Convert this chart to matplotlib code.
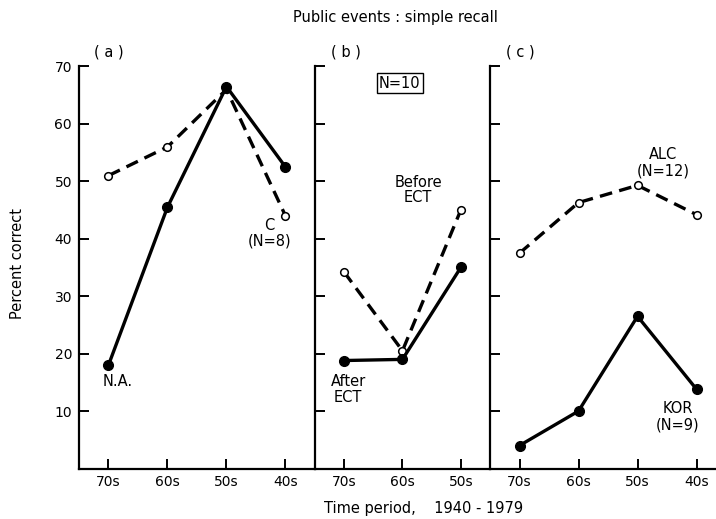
import matplotlib
matplotlib.use("Agg")
import matplotlib.pyplot as plt

plt.rcParams['font.family'] = 'DejaVu Sans'

# decades recalled, most recent first
periods_a = ['70s', '60s', '50s', '40s']
periods_b = ['70s', '60s', '50s']
periods_c = ['70s', '60s', '50s', '40s']

# (a) control group vs N.A.
control_c = [51, 56, 66, 44]
patient_na = [18, 45.5, 66.5, 52.5]

# (b) ECT patients, N=10
before_ect = [34.2, 20.5, 45]
after_ect = [18.8, 19, 35]

# (c) alcoholics vs Korsakoff
alc = [37.5, 46.3, 49.3, 44.2]
kor = [4, 10, 26.5, 13.8]

yticks = [10, 20, 30, 40, 50, 60, 70]

LW = 2.4
DASH = (3.8, 2.2)


def style_axes(ax, labels, show_y):
    ax.set_xlim(-0.5, len(labels) - 0.5)
    ax.set_ylim(0, 70)
    ax.spines['top'].set_visible(False)
    ax.spines['right'].set_visible(False)
    ax.spines['left'].set_linewidth(1.6)
    ax.spines['bottom'].set_linewidth(1.6)
    ax.set_xticks(range(len(labels)))
    ax.set_xticklabels(labels, fontsize=10)
    ax.set_yticks(yticks)
    if show_y:
        ax.set_yticklabels([str(v) for v in yticks], fontsize=10)
    else:
        ax.set_yticklabels([])
    ax.tick_params(axis='both', direction='in', length=7, width=1.4, pad=5)
    ax.set_facecolor('none')


def open_line(ax, vals):
    ax.plot(range(len(vals)), vals, color='black', lw=LW, dashes=DASH,
            marker='o', ms=5.5, mfc='white', mec='black', mew=1.1, zorder=2)


def filled_line(ax, vals):
    ax.plot(range(len(vals)), vals, color='black', lw=LW, ls='-',
            marker='o', ms=7, mfc='black', mec='black', zorder=3)


fig = plt.figure(figsize=(7.16, 5.19), dpi=100)

bottom = 0.0973
height = 0.7746
ax_a = fig.add_axes([0.1103, bottom, 0.3296, height])
ax_b = fig.add_axes([0.4399, bottom, 0.2444, height])
ax_c = fig.add_axes([0.6844, bottom, 0.3296, height])

style_axes(ax_a, periods_a, True)
style_axes(ax_b, periods_b, False)
style_axes(ax_c, periods_c, False)

open_line(ax_a, control_c)
filled_line(ax_a, patient_na)
open_line(ax_b, before_ect)
filled_line(ax_b, after_ect)
open_line(ax_c, alc)
filled_line(ax_c, kor)

fs = 10.5
ax_a.text(0.0, 72.5, '( a )', ha='center', va='center', fontsize=fs, clip_on=False)
ax_b.text(0.03, 72.5, '( b )', ha='center', va='center', fontsize=fs, clip_on=False)
ax_c.text(0.02, 72.5, '( c )', ha='center', va='center', fontsize=fs, clip_on=False)

ax_a.text(0.15, 15.2, 'N.A.', ha='center', va='center', fontsize=fs)
ax_a.text(2.73, 41.0, 'C\n(N=8)', ha='center', va='center', fontsize=fs,
          linespacing=1.05)
ax_b.text(0.95, 67.1, 'N=10', ha='center', va='center', fontsize=fs,
          bbox=dict(boxstyle='square,pad=0.15', fc='white', ec='black', lw=1))
ax_b.text(1.27, 48.5, 'Before\nECT', ha='center', va='center', fontsize=fs,
          linespacing=1.05)
ax_b.text(0.07, 13.8, 'After\nECT', ha='center', va='center', fontsize=fs,
          linespacing=1.05)
ax_c.text(2.44, 53.2, 'ALC\n(N=12)', ha='center', va='center', fontsize=fs,
          linespacing=1.1)
ax_c.text(2.68, 9.0, 'KOR\n(N=9)', ha='center', va='center', fontsize=fs,
          linespacing=1.1)

fig.text(0.5517, 0.967, 'Public events : simple recall', ha='center', va='center',
         fontsize=10.5)
fig.text(0.592, 0.021, 'Time period,    1940 - 1979', ha='center', va='center',
         fontsize=10.5)
fig.text(0.025, 0.493, 'Percent correct', ha='center', va='center', rotation=90,
         fontsize=10.5)

fig.savefig('out.png', dpi=100)
